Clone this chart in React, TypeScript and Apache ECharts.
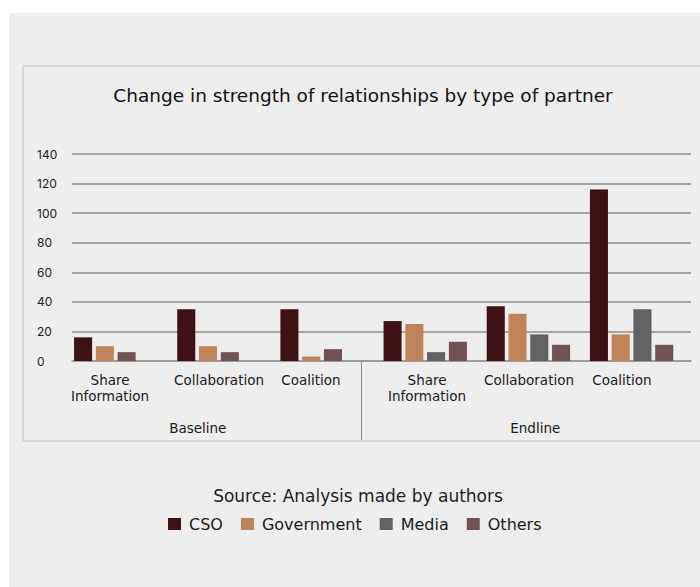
import { useEffect, useRef } from 'react';
import * as echarts from 'echarts';

const categories = ['Share\nInformation', 'Collaboration', 'Coalition', 'Share\nInformation', 'Collaboration', 'Coalition'];
const groups = ['Baseline', 'Endline'];
const seriesNames = ['CSO', 'Government', 'Media', 'Others'];
const cso = [16, 35, 35, 27, 37, 116];
const government = [10, 10, 3, 25, 32, 18];
const media: (number | null)[] = [null, null, null, 6, 18, 35];
const others = [6, 6, 8, 13, 11, 11];
const yMax = 140;
const yInterval = 20;
const colors = ['#3e1214', '#bf845a', '#626262', '#735253'];

export default function App() {
  const ref = useRef<HTMLDivElement>(null);
  useEffect(() => {
    const chart = echarts.init(ref.current!, null, { renderer: 'svg' });
    const values: (number | null)[][] = [cso, government, media, others];
    const present = categories.map((_, c) =>
      values.map((v, s) => (v[c] != null ? s : -1)).filter((s) => s >= 0)
    );
    const font = 'DejaVu Sans';
    const numFont = 'Inter';
    const labelShift = [27, 15.5, 38, 12, 14.5, 35];
    const rich: any = {};
    labelShift.forEach((p, i) => {
      rich['c' + i] = { padding: [0, p, 0, 0], fontSize: 13.5, fontFamily: font, color: '#1a1a1a', lineHeight: 16 };
    });
    const groupShift = [11, 9];
    const grich: any = {};
    groupShift.forEach((p, i) => {
      grich['g' + i] = { padding: [0, 0, 0, p], fontSize: 13.5, fontFamily: font, color: '#1a1a1a' };
    });
    chart.setOption({
      animation: false,
      textStyle: { fontFamily: font },
      title: [
        {
          text: 'Change in strength of relationships by type of partner',
          left: 363,
          textAlign: 'center',
          top: 86,
          padding: 0,
          textStyle: { fontSize: 18.5, fontWeight: 'normal', color: '#111', fontFamily: font },
        },
        {
          text: 'Source: Analysis made by authors',
          left: 358,
          textAlign: 'center',
          top: 487,
          padding: 0,
          textStyle: { fontSize: 17, fontWeight: 'normal', color: '#222', fontFamily: font },
        },
      ],
      legend: {
        top: 516,
        left: 168,
        padding: 0,
        itemWidth: 13,
        itemHeight: 12,
        itemGap: 18,
        icon: 'rect',
        textStyle: { fontSize: 16, color: '#1a1a1a', fontFamily: font, padding: [0, 0, 0, 3] },
        data: seriesNames.map((n, i) => ({ name: n, itemStyle: { color: colors[i] } })),
      },
      grid: [
        { left: 72, right: 9, top: 154, bottom: 226 },
        { left: 23, right: -1, top: 154, bottom: 226 },
      ],
      xAxis: [
        {
          type: 'category',
          gridIndex: 0,
          data: categories,
          axisLine: { show: true, lineStyle: { color: '#999', width: 1.5 } },
          axisTick: { show: false },
          axisLabel: {
            interval: 0,
            margin: 11,
            formatter: (v: string, i: number) =>
              v.split('\n').map((line) => `{c${i}|${line}}`).join('\n'),
            rich,
          },
        },
        {
          type: 'category',
          gridIndex: 1,
          data: groups,
          axisLine: { show: false },
          axisTick: { show: true, length: 79, lineStyle: { color: '#8a8a8a', width: 1 } },
          axisLabel: {
            interval: 0,
            margin: 60,
            formatter: (v: string, i: number) => `{g${i}|${v}}`,
            rich: grich,
          },
        },
      ],
      yAxis: [
        {
          type: 'value',
          gridIndex: 0,
          min: 0,
          max: yMax,
          interval: yInterval,
          axisLine: { show: false },
          axisTick: { show: false },
          axisLabel: { align: 'left', margin: 35, fontSize: 12, color: '#222', fontFamily: numFont },
          splitLine: { lineStyle: { color: '#8e8e8e', width: 1.5 } },
        },
        { type: 'value', gridIndex: 1, show: false, min: 0, max: yMax },
      ],
      series: values.map((vals, s) => ({
        type: 'custom',
        name: seriesNames[s],
        xAxisIndex: 0,
        yAxisIndex: 0,
        itemStyle: { color: colors[s] },
        encode: { x: 0, y: 1 },
        data: vals.map((v, c) => (v == null ? null : [c, v])).filter((d) => d != null),
        renderItem: (_params: any, api: any) => {
          const c = api.value(0) as number;
          const v = api.value(1) as number;
          const band = api.size([1, 0])[0];
          const base = api.coord([c, 0]);
          const top = api.coord([c, v]);
          const slot = present[c].indexOf(s);
          const x = base[0] - band / 2 + band * 0.02 + slot * band * 0.211;
          return {
            type: 'rect',
            shape: { x, y: top[1], width: band * 0.175, height: base[1] - top[1] },
            style: { fill: colors[s] },
          };
        },
      })),
    });
    return () => chart.dispose();
  }, []);
  return (
    <div style={{ position: 'fixed', left: 0, top: 0, width: 700, height: 587, background: '#fff' }}>
      <div style={{ position: 'absolute', left: 9, top: 13, width: 691, height: 574, background: '#eeeeee' }} />
      <div ref={ref} style={{ position: 'absolute', left: 0, top: 0, width: 700, height: 587 }} />
      <div
        style={{
          position: 'absolute',
          left: 22,
          top: 65,
          width: 690,
          height: 377,
          boxSizing: 'border-box',
          border: '2px solid #d6d6d6',
          pointerEvents: 'none',
        }}
      />
    </div>
  );
}
